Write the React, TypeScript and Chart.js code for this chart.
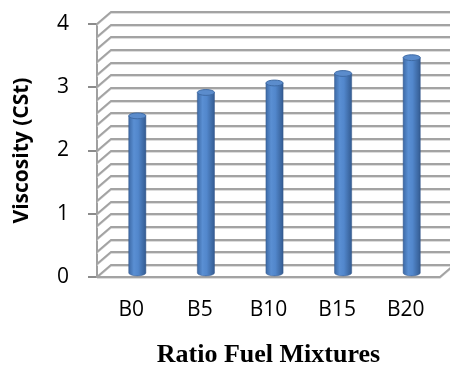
import { useEffect, useRef } from 'react';
import { Chart, registerables } from 'chart.js';

Chart.register(...registerables);

const categories = ['B0', 'B5', 'B10', 'B15', 'B20'];
const viscosity = [2.5, 2.87, 3.02, 3.17, 3.42];
const yTickValues = [0, 1, 2, 3, 4];
const yMin = 0;
const yMax = 4;
const gridStep = 0.2;
const xTitle = 'Ratio Fuel Mixtures';
const yTitle = 'Viscosity (CSt)';

const DEPTH_X = 14;
const DEPTH_Y = 12;
const BAR_DX = 6;
const BAR_DY = -3;

const wallPlugin = {
  id: 'wall3d',
  beforeDatasetsDraw(chart: any) {
    const { ctx, chartArea, scales } = chart;
    const y = scales.y;
    const W = chart.width;
    const left = chartArea.left;
    const right = chartArea.right;
    const n = Math.round((yMax - yMin) / gridStep);
    ctx.save();
    ctx.lineJoin = 'miter';
    for (let i = 0; i <= n; i++) {
      const v = yMin + i * gridStep;
      const py = Math.round(y.getPixelForValue(v));
      ctx.strokeStyle = '#dcdcdc';
      ctx.lineWidth = 1;
      ctx.beginPath();
      ctx.moveTo(left, py + 1.5);
      ctx.lineTo(left + DEPTH_X, py - DEPTH_Y + 1.5);
      ctx.lineTo(W, py - DEPTH_Y + 1.5);
      ctx.stroke();
      ctx.strokeStyle = '#a3a3a3';
      ctx.lineWidth = 2;
      ctx.beginPath();
      ctx.moveTo(left, py);
      ctx.lineTo(left + DEPTH_X, py - DEPTH_Y);
      ctx.lineTo(W, py - DEPTH_Y);
      ctx.stroke();
    }
    const p0 = Math.round(y.getPixelForValue(yMin));
    ctx.strokeStyle = '#dcdcdc';
    ctx.lineWidth = 1;
    ctx.beginPath();
    ctx.moveTo(left, p0 + 1.5);
    ctx.lineTo(right, p0 + 1.5);
    ctx.lineTo(right + DEPTH_X * 0.75, p0 - DEPTH_Y * 0.75 + 1.5);
    ctx.stroke();
    ctx.strokeStyle = '#a3a3a3';
    ctx.lineWidth = 2;
    ctx.beginPath();
    ctx.moveTo(left, p0);
    ctx.lineTo(right, p0);
    ctx.lineTo(right + DEPTH_X * 0.75, p0 - DEPTH_Y * 0.75);
    ctx.stroke();
    ctx.restore();
  },
  afterDatasetsDraw(chart: any) {
    const { ctx } = chart;
    const meta = chart.getDatasetMeta(0);
    ctx.save();
    ctx.translate(BAR_DX, BAR_DY);
    meta.data.forEach((el: any) => {
      const { x, y, base, width } = el.getProps(['x', 'y', 'base', 'width'], true);
      const rx = width / 2;
      const ry = Math.max(2, width * 0.17);
      const g = ctx.createLinearGradient(x - rx, 0, x + rx, 0);
      g.addColorStop(0, '#3d6aa6');
      g.addColorStop(0.3, '#5a8fd3');
      g.addColorStop(0.55, '#5287cc');
      g.addColorStop(1, '#345c92');
      ctx.fillStyle = g;
      ctx.beginPath();
      ctx.moveTo(x - rx, y);
      ctx.lineTo(x - rx, base);
      ctx.ellipse(x, base, rx, ry, 0, Math.PI, 0, true);
      ctx.lineTo(x + rx, y);
      ctx.closePath();
      ctx.fill();
      ctx.strokeStyle = 'rgba(50,85,135,0.6)';
      ctx.lineWidth = 0.8;
      ctx.stroke();
      ctx.beginPath();
      ctx.ellipse(x, y, rx, ry, 0, 0, Math.PI * 2);
      ctx.fillStyle = '#5b8ccc';
      ctx.fill();
      ctx.strokeStyle = '#3f6ba5';
      ctx.lineWidth = 1;
      ctx.stroke();
    });
    ctx.restore();
  },
};

export default function App() {
  const ref = useRef<HTMLCanvasElement | null>(null);

  useEffect(() => {
    document.body.style.margin = '0';
    const canvas = ref.current;
    if (!canvas) return;
    const chart = new Chart(canvas, {
      type: 'bar',
      data: {
        labels: categories,
        datasets: [
          {
            label: yTitle,
            data: viscosity,
            backgroundColor: 'rgba(0,0,0,0)',
            borderWidth: 0,
            barPercentage: 0.25,
            categoryPercentage: 1,
          },
        ],
      },
      options: {
        responsive: false,
        animation: false,
        devicePixelRatio: 1,
        layout: { padding: { left: 4, right: 10, top: 24, bottom: 0 } },
        plugins: {
          legend: { display: false },
          tooltip: { enabled: false },
        },
        scales: {
          x: {
            grid: { display: false, drawTicks: false },
            border: { display: false },
            ticks: {
              color: '#000',
              font: { family: 'Open Sans', size: 21 },
              padding: 20,
            },
            title: {
              display: true,
              text: xTitle,
              color: '#000',
              font: { family: 'Liberation Serif', size: 26, weight: 'bold' },
              padding: { top: -2.4, bottom: -2 },
            },
          },
          y: {
            min: yMin,
            max: yMax,
            afterBuildTicks: (scale: any) => {
              scale.ticks = yTickValues.map((v) => ({ value: v }));
            },
            afterFit: (scale: any) => {
              scale.paddingTop = 0;
              scale.paddingBottom = 0;
            },
            ticks: {
              color: '#000',
              font: { family: 'Open Sans', size: 21 },
              padding: 19,
            },
            grid: {
              display: true,
              drawOnChartArea: false,
              drawTicks: true,
              tickLength: 9,
              color: '#8c8c8c',
              lineWidth: 2,
            },
            border: { display: true, color: '#a0a0a0', width: 2 },
            title: {
              display: true,
              text: yTitle,
              color: '#000',
              font: { family: 'Open Sans', size: 21, weight: 'bold' },
              padding: { top: 5.4, bottom: 3.4 },
            },
          },
        },
      },
      plugins: [wallPlugin],
    });
    return () => chart.destroy();
  }, []);

  return <canvas ref={ref} width={450} height={369} style={{ display: 'block' }} />;
}
